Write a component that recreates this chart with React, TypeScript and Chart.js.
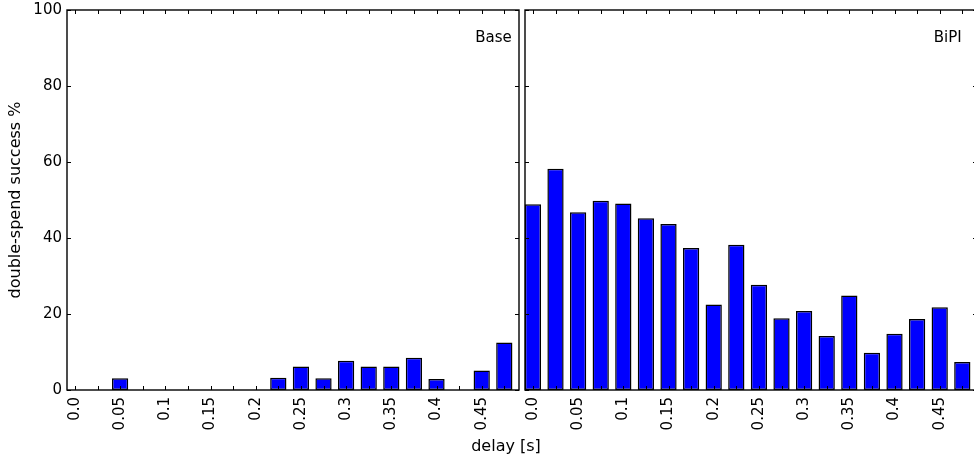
import React, { useEffect, useRef } from "react";
import { Chart, registerables } from "chart.js";

Chart.register(...registerables);

// ---- data ----
const delays = [
  0.0, 0.025, 0.05, 0.075, 0.1, 0.125, 0.15, 0.175, 0.2, 0.225,
  0.25, 0.275, 0.3, 0.325, 0.35, 0.375, 0.4, 0.425, 0.45, 0.475,
];
const tickLabels = ["0.0", "0.05", "0.1", "0.15", "0.2", "0.25", "0.3", "0.35", "0.4", "0.45"];
const baseValues = [
  0, 0, 3.1, 0, 0, 0, 0, 0, 0, 3.2,
  6.2, 3.1, 7.7, 6.2, 6.2, 8.5, 2.9, 0, 5.1, 12.5,
];
const bipiValues = [
  48.9, 58.2, 46.8, 49.8, 49.1, 45.2, 43.7, 37.4, 22.5, 38.2,
  27.7, 18.9, 20.8, 14.2, 24.9, 9.8, 14.8, 18.7, 21.8, 7.4,
];
const panelTitles = ["Base", "BiPI"];
const yTickValues = [0, 20, 40, 60, 80, 100];
const xTitle = "delay [s]";
const yTitle = "double-spend success %";

// ---- layout constants ----
const BIN = 0.025;
const BAR_W = 0.7 * BIN;
const GAP = 6 / 904; // gap between panels in data units
const OFFSET2 = 0.5 + GAP;
const XMAX = 1 + GAP;
const FONT = '"DejaVu Sans", "Liberation Sans", sans-serif';

const centers = [
  ...delays.map((d) => d + BAR_W / 2),
  ...delays.map((d) => OFFSET2 + d + BAR_W / 2),
];

const zeroPadding = (scale: any) => {
  scale.paddingLeft = 0;
  scale.paddingRight = 0;
  scale.paddingTop = 0;
  scale.paddingBottom = 0;
};

const framePlugin = {
  id: "framePlugin",
  afterDraw(chart: any) {
    const { ctx } = chart;
    const x = chart.scales.x;
    const y = chart.scales.y;
    const top = y.getPixelForValue(100);
    const bottom = y.getPixelForValue(0);
    const panels = [
      [0, 0.5],
      [OFFSET2, XMAX],
    ];
    ctx.save();
    ctx.strokeStyle = "#000";
    panels.forEach(([a, b], pi) => {
      const L = x.getPixelForValue(a);
      const R = x.getPixelForValue(b);
      ctx.lineWidth = 1;
      ctx.beginPath();
      yTickValues.forEach((v) => {
        const py = Math.round(y.getPixelForValue(v)) + 0.5;
        ctx.moveTo(L, py);
        ctx.lineTo(L + 4, py);
        ctx.moveTo(R - 4, py);
        ctx.lineTo(R, py);
      });
      delays.forEach((d) => {
        const px = Math.round(x.getPixelForValue((pi === 0 ? 0 : OFFSET2) + d + BAR_W / 2)) + 0.5;
        ctx.moveTo(px, bottom);
        ctx.lineTo(px, bottom - 4);
        ctx.moveTo(px, top);
        ctx.lineTo(px, top + 4);
      });
      ctx.stroke();
      ctx.lineWidth = 1.4;
      ctx.strokeRect(L, top, R - L, bottom - top);

      ctx.fillStyle = "#000";
      ctx.font = `15px ${FONT}`;
      ctx.textAlign = "right";
      ctx.textBaseline = "alphabetic";
      ctx.fillText(panelTitles[pi], R - (pi === 0 ? 7.3 : 15.3), 42.3);
    });

    ctx.fillStyle = "#000";
    ctx.font = `16px ${FONT}`;
    ctx.textAlign = "center";
    ctx.textBaseline = "alphabetic";
    ctx.fillText(xTitle, 506, 451);

    ctx.translate(16, (top + bottom) / 2);
    ctx.rotate(-Math.PI / 2);
    ctx.textBaseline = "middle";
    ctx.fillText(yTitle, 0, 0);
    ctx.restore();
  },
};

export default function App() {
  const ref = useRef<HTMLCanvasElement | null>(null);

  useEffect(() => {
    if (!ref.current) return;
    const points = [
      ...delays.map((d, i) => ({ x: d + BAR_W / 2, y: baseValues[i] })),
      ...delays.map((d, i) => ({ x: OFFSET2 + d + BAR_W / 2, y: bipiValues[i] })),
    ];
    const chart = new Chart(ref.current, {
      type: "bar",
      data: {
        datasets: [
          {
            data: points as any,
            backgroundColor: "#0000ff",
            borderColor: "#000000",
            borderWidth: 1.5,
            borderSkipped: false,
            inflateAmount: 0,
            barPercentage: 0.72,
            categoryPercentage: 1.0,
          },
        ],
      },
      options: {
        responsive: false,
        devicePixelRatio: 1,
        animation: false,
        layout: { padding: { top: 10, right: 8, left: 0, bottom: 0 } },
        plugins: {
          legend: { display: false },
          tooltip: { enabled: false },
        },
        scales: {
          x: {
            type: "linear",
            min: 0,
            max: XMAX,
            bounds: "data",
            offset: false,
            grid: { display: false, drawTicks: false, offset: false },
            border: { display: false },
            afterBuildTicks: (scale: any) => {
              scale.ticks = centers.map((v) => ({ value: v }));
            },
            afterFit: (scale: any) => {
              scale.height = 69;
              zeroPadding(scale);
            },
            ticks: {
              autoSkip: false,
              minRotation: 90,
              maxRotation: 90,
              padding: 7,
              color: "#000",
              font: { family: FONT, size: 15 },
              callback: (_v: any, index: number) => {
                const j = index % 20;
                return j % 2 === 0 ? tickLabels[j / 2] : "";
              },
            },
          },
          y: {
            type: "linear",
            min: 0,
            max: 100,
            grid: { display: false, drawTicks: false },
            border: { display: false },
            afterFit: (scale: any) => {
              scale.width = 67;
              zeroPadding(scale);
            },
            ticks: {
              stepSize: 20,
              padding: 5,
              color: "#000",
              font: { family: FONT, size: 15 },
            },
          },
        },
      },
      plugins: [framePlugin],
    });
    return () => chart.destroy();
  }, []);

  return (
    <div
      style={{
        position: "fixed",
        left: 0,
        top: 0,
        width: 974,
        height: 459,
        overflow: "hidden",
        background: "#fff",
      }}
    >
      <canvas ref={ref} width={985} height={459} style={{ display: "block" }} />
    </div>
  );
}
